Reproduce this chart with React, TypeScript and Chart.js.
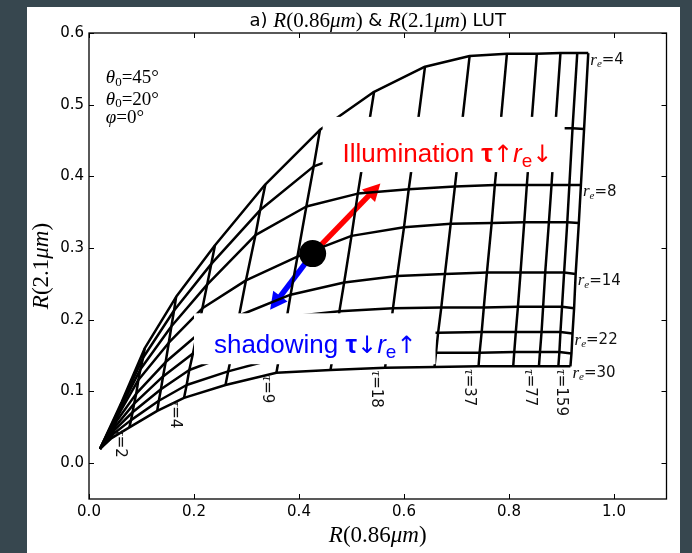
import React, { useEffect, useRef } from 'react';
import { Chart, registerables } from 'chart.js';

Chart.register(...registerables);

// ---------------- data ----------------
const TAU_VALUES = [0, 1, 2, 3, 4, 6, 9, 13, 18, 26, 37, 54, 77, 110, 159];
const TAU_LABELED = [2, 4, 9, 18, 37, 77, 159];
const RE_VALUES = [4, 6, 8, 10, 14, 18, 22, 26, 30];
const RE_LABELED = [4, 8, 14, 22, 30];

// R(0.86um) and R(2.1um) along each r_e curve, one value per tau in TAU_VALUES
const R086_RE4 = [0.021, 0.062, 0.106, 0.166, 0.240, 0.336, 0.440, 0.543, 0.640, 0.725, 0.796, 0.853, 0.898, 0.930, 0.951];
const R21_RE4 = [0.020, 0.085, 0.160, 0.232, 0.304, 0.389, 0.465, 0.518, 0.553, 0.568, 0.571, 0.571, 0.572, 0.572, 0.572];
const R086_RE6 = [0.021, 0.060, 0.103, 0.162, 0.233, 0.326, 0.428, 0.526, 0.623, 0.709, 0.783, 0.842, 0.888, 0.921, 0.943];
const R21_RE6 = [0.020, 0.079, 0.147, 0.213, 0.278, 0.353, 0.414, 0.440, 0.456, 0.464, 0.466, 0.466, 0.467, 0.467, 0.466];
const R086_RE8 = [0.021, 0.057, 0.098, 0.157, 0.225, 0.317, 0.414, 0.512, 0.609, 0.697, 0.773, 0.834, 0.881, 0.915, 0.937];
const R21_RE8 = [0.020, 0.072, 0.131, 0.191, 0.249, 0.318, 0.358, 0.376, 0.382, 0.386, 0.388, 0.388, 0.388, 0.388, 0.388];
const R086_RE10 = [0.021, 0.054, 0.094, 0.152, 0.216, 0.299, 0.397, 0.500, 0.600, 0.689, 0.767, 0.829, 0.876, 0.911, 0.933];
const R21_RE10 = [0.020, 0.065, 0.116, 0.168, 0.216, 0.255, 0.288, 0.317, 0.329, 0.334, 0.335, 0.336, 0.336, 0.336, 0.335];
const R086_RE14 = [0.021, 0.051, 0.090, 0.146, 0.205, 0.286, 0.384, 0.486, 0.587, 0.678, 0.758, 0.822, 0.869, 0.905, 0.927];
const R21_RE14 = [0.020, 0.057, 0.097, 0.141, 0.178, 0.206, 0.235, 0.252, 0.261, 0.264, 0.266, 0.266, 0.266, 0.266, 0.264];
const R086_RE18 = [0.021, 0.049, 0.086, 0.141, 0.198, 0.279, 0.377, 0.477, 0.579, 0.671, 0.752, 0.817, 0.865, 0.901, 0.924];
const R21_RE18 = [0.020, 0.050, 0.083, 0.121, 0.153, 0.178, 0.204, 0.212, 0.216, 0.217, 0.217, 0.218, 0.218, 0.218, 0.216];
const R086_RE22 = [0.021, 0.047, 0.083, 0.137, 0.191, 0.272, 0.368, 0.471, 0.573, 0.665, 0.748, 0.813, 0.862, 0.898, 0.921];
const R21_RE22 = [0.020, 0.045, 0.071, 0.103, 0.130, 0.152, 0.173, 0.179, 0.181, 0.182, 0.183, 0.183, 0.183, 0.183, 0.181];
const R086_RE26 = [0.021, 0.045, 0.080, 0.133, 0.186, 0.265, 0.362, 0.465, 0.567, 0.661, 0.744, 0.810, 0.859, 0.896, 0.919];
const R21_RE26 = [0.020, 0.040, 0.060, 0.087, 0.109, 0.128, 0.147, 0.151, 0.152, 0.154, 0.154, 0.155, 0.155, 0.155, 0.153];
const R086_RE30 = [0.021, 0.043, 0.077, 0.130, 0.181, 0.260, 0.357, 0.460, 0.564, 0.658, 0.742, 0.808, 0.857, 0.894, 0.917];
const R21_RE30 = [0.020, 0.035, 0.050, 0.073, 0.091, 0.109, 0.126, 0.130, 0.133, 0.134, 0.135, 0.135, 0.135, 0.135, 0.135];

const R086 = [R086_RE4, R086_RE6, R086_RE8, R086_RE10, R086_RE14, R086_RE18, R086_RE22, R086_RE26, R086_RE30];
const R21 = [R21_RE4, R21_RE6, R21_RE8, R21_RE10, R21_RE14, R21_RE18, R21_RE22, R21_RE26, R21_RE30];

const X_TICKS = [0, 0.2, 0.4, 0.6, 0.8, 1.0];
const Y_TICKS = [0, 0.1, 0.2, 0.3, 0.4, 0.5, 0.6];

// observed pixel marker and arrow tips (data coords)
const MARKER = { x: 0.426, y: 0.2923 };
const ILLUM_TIP = { x: 0.555, y: 0.390 };
const SHADOW_TIP = { x: 0.345, y: 0.214 };

// annotation boxes (data coords)
const ILLUM_BOX = { x0: 0.445, x1: 0.906, y0: 0.406, y1: 0.483, tx: 0.483, ty: 0.420 };
const SHADOW_BOX = { x0: 0.200, x1: 0.660, y0: 0.138, y1: 0.209, tx: 0.238, ty: 0.1535 };

const GEOM_TEXT = [
  { sym: 'θ', sub: '0', rest: '=45°', y: 0.537 },
  { sym: 'θ', sub: '0', rest: '=20°', y: 0.507 },
  { sym: 'φ', sub: '', rest: '=0°', y: 0.481 },
];
const GEOM_X = 0.032;

// ---------------- styles ----------------
const SANS = '"DejaVu Sans", sans-serif';
const SERIF = '"Liberation Serif", "DejaVu Serif", serif';
const ARIAL = '"Liberation Sans", "DejaVu Sans", sans-serif';

type Seg = { t: string; f: string; dy?: number };

function segWidth(ctx: CanvasRenderingContext2D, segs: Seg[]) {
  let w = 0;
  for (const s of segs) {
    ctx.font = s.f;
    w += ctx.measureText(s.t).width;
  }
  return w;
}

function drawSegs(ctx: CanvasRenderingContext2D, x: number, y: number, segs: Seg[], align: 'left' | 'center' = 'left') {
  let cx = align === 'center' ? x - segWidth(ctx, segs) / 2 : x;
  ctx.textAlign = 'left';
  for (const s of segs) {
    ctx.font = s.f;
    ctx.fillText(s.t, cx, y + (s.dy || 0));
    cx += ctx.measureText(s.t).width;
  }
}

function drawArrow(ctx: CanvasRenderingContext2D, x0: number, y0: number, x1: number, y1: number, color: string) {
  const ang = Math.atan2(y1 - y0, x1 - x0);
  const headLen = 17;
  const headHalf = 9;
  const bx = x1 - headLen * Math.cos(ang);
  const by = y1 - headLen * Math.sin(ang);
  ctx.save();
  ctx.strokeStyle = color;
  ctx.fillStyle = color;
  ctx.lineWidth = 5.5;
  ctx.lineCap = 'butt';
  ctx.beginPath();
  ctx.moveTo(x0, y0);
  ctx.lineTo(bx + Math.cos(ang), by + Math.sin(ang));
  ctx.stroke();
  ctx.beginPath();
  ctx.moveTo(x1, y1);
  ctx.lineTo(bx + headHalf * Math.sin(ang), by - headHalf * Math.cos(ang));
  ctx.lineTo(bx - headHalf * Math.sin(ang), by + headHalf * Math.cos(ang));
  ctx.closePath();
  ctx.fill();
  ctx.restore();
}

export default function App() {
  const ref = useRef<HTMLCanvasElement>(null);

  useEffect(() => {
    const canvas = ref.current;
    if (!canvas) return;

    const lineStyle = {
      showLine: true,
      borderColor: '#000',
      borderWidth: 2.5,
      borderJoinStyle: 'round' as const,
      pointRadius: 0,
      pointHoverRadius: 0,
      fill: false,
      tension: 0,
    };

    const datasets: any[] = [];
    RE_VALUES.forEach((re, j) => {
      datasets.push({
        label: `re=${re}`,
        data: R086[j].map((x, i) => ({ x, y: R21[j][i] })),
        ...lineStyle,
      });
    });
    TAU_VALUES.forEach((tau, i) => {
      if (tau === 0) return;
      datasets.push({
        label: `tau=${tau}`,
        data: RE_VALUES.map((_, j) => ({ x: R086[j][i], y: R21[j][i] })),
        ...lineStyle,
      });
    });
    datasets.push({
      label: 'marker',
      data: [MARKER],
      showLine: false,
      pointRadius: 13.5,
      pointHoverRadius: 13.5,
      pointBackgroundColor: '#000',
      pointBorderColor: '#000',
      pointBorderWidth: 0,
    });
    const dotIndex = datasets.length - 1;

    const annot = {
      id: 'annot',
      beforeDatasetDraw(chart: any, args: any) {
        if (args.index !== dotIndex) return;
        const { ctx, scales } = chart;
        const xs = scales.x, ys = scales.y;
        const mx = xs.getPixelForValue(MARKER.x), my = ys.getPixelForValue(MARKER.y);
        drawArrow(ctx, mx, my, xs.getPixelForValue(ILLUM_TIP.x), ys.getPixelForValue(ILLUM_TIP.y), '#ff0000');
        drawArrow(ctx, mx, my, xs.getPixelForValue(SHADOW_TIP.x), ys.getPixelForValue(SHADOW_TIP.y), '#0000ff');
      },
      afterDatasetsDraw(chart: any) {
        const { ctx, scales, chartArea } = chart;
        const xs = scales.x, ys = scales.y;
        const px = (v: number) => xs.getPixelForValue(v);
        const py = (v: number) => ys.getPixelForValue(v);
        ctx.save();

        // white text boxes
        ctx.fillStyle = '#fff';
        for (const b of [ILLUM_BOX, SHADOW_BOX]) {
          ctx.fillRect(px(b.x0), py(b.y1), px(b.x1) - px(b.x0), py(b.y0) - py(b.y1));
        }
        ctx.textBaseline = 'alphabetic';
        ctx.fillStyle = '#ff0000';
        drawSegs(ctx, px(ILLUM_BOX.tx), py(ILLUM_BOX.ty), [
          { t: 'Illumination ', f: `26px ${ARIAL}` },
          { t: 'τ', f: `bold 26px ${ARIAL}` },
          { t: '↑', f: `24px ${SANS}` },
          { t: 'r', f: `italic 26px ${ARIAL}` },
          { t: 'e', f: `19px ${ARIAL}`, dy: 5 },
          { t: '↓', f: `24px ${SANS}` },
        ]);
        ctx.fillStyle = '#0000ff';
        drawSegs(ctx, px(SHADOW_BOX.tx), py(SHADOW_BOX.ty), [
          { t: 'shadowing ', f: `26px ${ARIAL}` },
          { t: 'τ', f: `bold 26px ${ARIAL}` },
          { t: '↓', f: `24px ${SANS}` },
          { t: 'r', f: `italic 26px ${ARIAL}` },
          { t: 'e', f: `19px ${ARIAL}`, dy: 5 },
          { t: '↑', f: `24px ${SANS}` },
        ]);

        // geometry text
        ctx.fillStyle = '#000';
        ctx.textBaseline = 'middle';
        for (const g of GEOM_TEXT) {
          const segs: Seg[] = [{ t: g.sym, f: `italic 19px ${SERIF}` }];
          if (g.sub) segs.push({ t: g.sub, f: `13px ${SERIF}`, dy: 4 });
          segs.push({ t: g.rest, f: `19px ${SERIF}` });
          drawSegs(ctx, px(GEOM_X), py(g.y), segs);
        }

        // r_e labels at the end of each labelled r_e curve
        const last = TAU_VALUES.length - 1;
        ctx.fillStyle = '#111';
        ctx.textBaseline = 'middle';
        for (const re of RE_LABELED) {
          const j = RE_VALUES.indexOf(re);
          const x = px(R086[j][last]) + 2;
          const y = py(R21[j][last]) + 7;
          drawSegs(ctx, x, y, [
            { t: 'r', f: `italic 17px ${SERIF}` },
            { t: 'e', f: `italic 11px ${SERIF}`, dy: 4 },
            { t: '=' + re, f: `15px ${SANS}` },
          ]);
        }

        // tau labels below the bottom end of labelled tau lines (rotated)
        const jb = RE_VALUES.length - 1;
        for (const tau of TAU_LABELED) {
          const i = TAU_VALUES.indexOf(tau);
          const x = px(R086[jb][i]) - 2;
          const y = py(R21[jb][i]) + 3;
          ctx.save();
          ctx.translate(x, y);
          ctx.rotate(Math.PI / 2);
          ctx.textBaseline = 'top';
          drawSegs(ctx, 0, 0, [
            { t: 'τ', f: `italic 15px ${SERIF}` },
            { t: '=' + tau, f: `15px ${SANS}` },
          ]);
          ctx.restore();
        }

        // frame and inward ticks
        ctx.strokeStyle = '#000';
        ctx.lineWidth = 1.3;
        ctx.strokeRect(chartArea.left, chartArea.top, chartArea.right - chartArea.left, chartArea.bottom - chartArea.top);
        ctx.lineWidth = 1;
        ctx.beginPath();
        for (const v of X_TICKS) {
          const x = Math.round(px(v)) + 0.5;
          ctx.moveTo(x, chartArea.bottom);
          ctx.lineTo(x, chartArea.bottom - 5);
          ctx.moveTo(x, chartArea.top);
          ctx.lineTo(x, chartArea.top + 5);
        }
        for (const v of Y_TICKS) {
          const y = Math.round(py(v)) + 0.5;
          ctx.moveTo(chartArea.left, y);
          ctx.lineTo(chartArea.left + 5, y);
          ctx.moveTo(chartArea.right, y);
          ctx.lineTo(chartArea.right - 5, y);
        }
        ctx.stroke();

        // titles
        const cx = (chartArea.left + chartArea.right) / 2;
        const cy = (chartArea.top + chartArea.bottom) / 2;
        ctx.fillStyle = '#000';
        ctx.textBaseline = 'middle';
        drawSegs(ctx, cx, 14, [
          { t: 'a) ', f: `18px ${SANS}` },
          { t: 'R', f: `italic 21px ${SERIF}` },
          { t: '(0.86', f: `21px ${SERIF}` },
          { t: 'μm', f: `italic 21px ${SERIF}` },
          { t: ')', f: `21px ${SERIF}` },
          { t: ' & ', f: `18px ${SANS}` },
          { t: 'R', f: `italic 21px ${SERIF}` },
          { t: '(2.1', f: `21px ${SERIF}` },
          { t: 'μm', f: `italic 21px ${SERIF}` },
          { t: ')', f: `21px ${SERIF}` },
          { t: ' LUT', f: `18px ${SANS}` },
        ], 'center');
        drawSegs(ctx, cx, chartArea.bottom + 37, [
          { t: 'R', f: `italic 23px ${SERIF}` },
          { t: '(0.86', f: `23px ${SERIF}` },
          { t: 'μm', f: `italic 23px ${SERIF}` },
          { t: ')', f: `23px ${SERIF}` },
        ], 'center');
        ctx.save();
        ctx.translate(15, cy);
        ctx.rotate(-Math.PI / 2);
        drawSegs(ctx, 0, 0, [
          { t: 'R', f: `italic 23px ${SERIF}` },
          { t: '(2.1', f: `23px ${SERIF}` },
          { t: 'μm', f: `italic 23px ${SERIF}` },
          { t: ')', f: `23px ${SERIF}` },
        ], 'center');
        ctx.restore();

        ctx.restore();
      },
    };

    const tickFont = { family: '"DejaVu Sans", sans-serif', size: 15 };
    const chart = new Chart(canvas, {
      type: 'scatter',
      data: { datasets },
      options: {
        responsive: false,
        animation: false,
        devicePixelRatio: 1,
        layout: { padding: { left: 0, right: 8, top: 26, bottom: 0 } },
        plugins: { legend: { display: false }, tooltip: { enabled: false }, title: { display: false } },
        events: [],
        scales: {
          x: {
            type: 'linear',
            min: 0,
            max: 1.1,
            afterBuildTicks: (s: any) => { s.ticks = X_TICKS.map((v) => ({ value: v })); },
            afterFit: (s: any) => { s.height = 54; },
            ticks: {
              callback: (v: any) => Number(v).toFixed(1),
              font: tickFont,
              color: '#000',
              padding: 4,
              maxRotation: 0,
              autoSkip: false,
            },
            grid: { display: false, drawTicks: false },
            border: { display: false },
          },
          y: {
            type: 'linear',
            min: -0.05,
            max: 0.6,
            afterBuildTicks: (s: any) => { s.ticks = Y_TICKS.map((v) => ({ value: v })); },
            afterFit: (s: any) => { s.width = 62; },
            ticks: {
              callback: (v: any) => Number(v).toFixed(1),
              font: tickFont,
              color: '#000',
              padding: 5,
              autoSkip: false,
            },
            grid: { display: false, drawTicks: false },
            border: { display: false },
          },
        },
      } as any,
      plugins: [annot],
    });

    return () => chart.destroy();
  }, []);

  return (
    <div style={{ position: 'fixed', left: 0, top: 0, width: 692, height: 553, background: '#37474f', overflow: 'hidden' }}>
      <div style={{ position: 'absolute', left: 27, top: 7, width: 653, height: 546, background: '#fff' }}>
        <canvas ref={ref} width={653} height={546} style={{ display: 'block', width: 653, height: 546 }} />
      </div>
    </div>
  );
}
